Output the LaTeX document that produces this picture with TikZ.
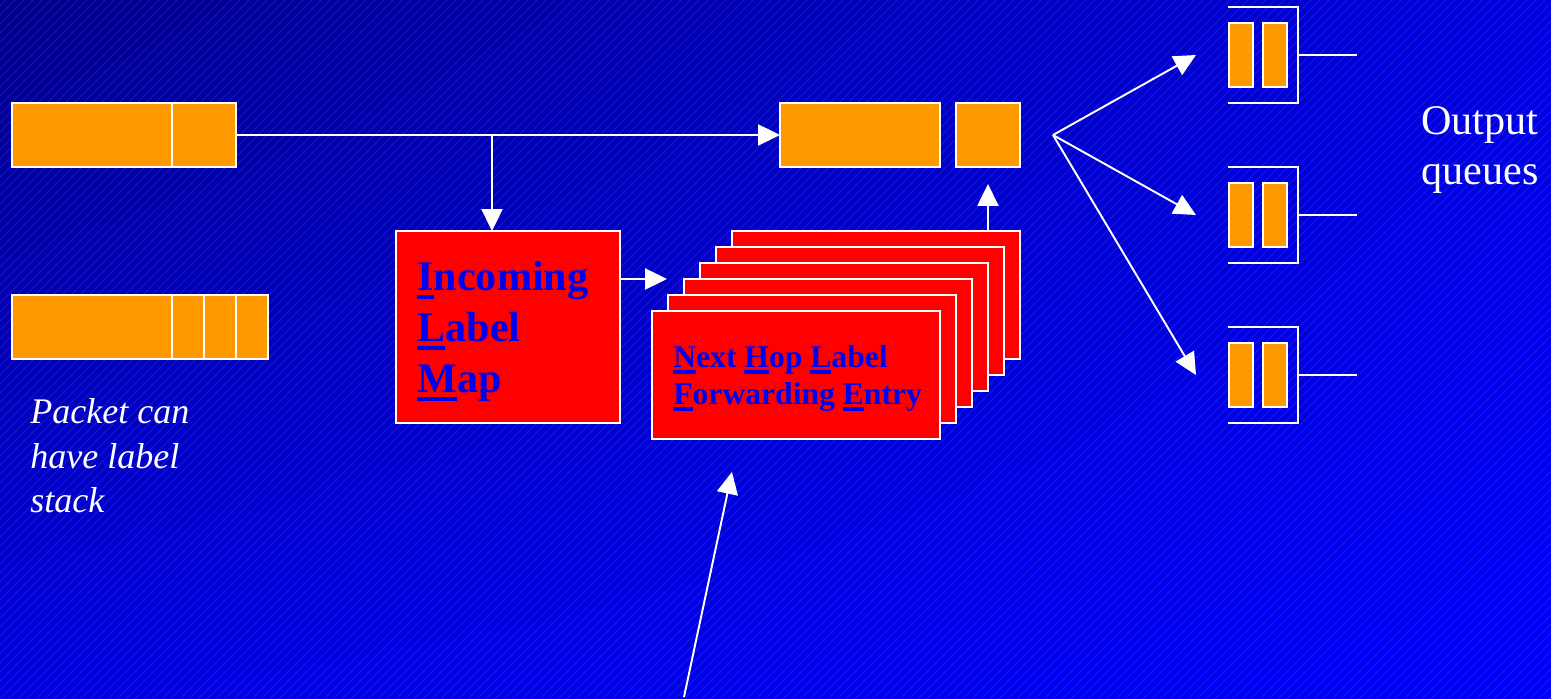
\documentclass[tikz,border=0pt]{standalone}
\usepackage{fontspec}
\setmainfont{Liberation Serif}
\usetikzlibrary{arrows.meta,positioning,shadings}

\definecolor{pktorange}{HTML}{FF9900}
\definecolor{tblred}{HTML}{FF0000}
\definecolor{tblblue}{HTML}{0000F0}
\definecolor{bgdark}{RGB}{0,0,140}
\definecolor{bgmid}{RGB}{0,0,225}
\definecolor{bglight}{RGB}{0,0,250}

% underlined initial letter
\newcommand{\initial}[1]{\setbox0\hbox{#1}\rlap{\rule[-0.2em]{\wd0}{0.1em}}#1}

\begin{document}
\begin{tikzpicture}[
    x=0.02cm, y=-0.02cm,
    pkt/.style={draw=white, line width=0.8pt, fill=pktorange, inner sep=0pt, outer sep=0pt, minimum height=1.28cm},
    hdr/.style={pkt, minimum width=3.2cm},
    lbl/.style={pkt, minimum width=1.28cm},
    lblthin/.style={pkt, minimum width=0.64cm},
    bar/.style={pkt, minimum width=0.48cm},
    table/.style={draw=white, line width=0.8pt, fill=tblred, inner sep=0pt, outer sep=0pt},
    tabletext/.style={text=tblblue, inner sep=0pt, align=left},
    queue/.style={inner sep=0pt, outer sep=0pt, minimum width=1.4cm, minimum height=1.92cm},
    wire/.style={white, line width=0.8pt},
    arrow/.style={-{Triangle[length=12.5pt, width=12pt]}, white, line width=1.1pt},
    note/.style={white, inner sep=0pt, align=left},
    bgline/.style={white, opacity=0.13, line width=0.3pt}
]
\useasboundingbox (0,0) rectangle (1551,699);

% Fondo
\shade[upper left=bgdark, upper right=bgmid, lower left=bgmid, lower right=bglight]
    (0,0) rectangle (1551,699);
\begin{scope}
    \clip (0,0) rectangle (1551,699);
    \foreach \i in {-78,...,173} {
        \draw[bgline] (\i*9,699) -- (\i*9+699,0);
    }
\end{scope}

% Paquete de entrada
\node[hdr, anchor=north west] (inhdr) at (12,103) {};
\node[lbl, right=0pt of inhdr] (inlbl) {};

% Paquete con pila de etiquetas
\node[hdr, anchor=north west] (stkhdr) at (12,295) {};
\node[lblthin, right=0pt of stkhdr] (stka) {};
\node[lblthin, right=0pt of stka] (stkb) {};
\node[lblthin, right=0pt of stkb] (stkc) {};
\node[note, font=\fontsize{20.5}{25.5}\selectfont\itshape, anchor=north west] (stknote)
    at (30,398) {Packet can\\have label\\stack};

% Paquete de salida
\node[hdr, anchor=north west] (outhdr) at (780,103) {};
\node[lbl, right=0.32cm of outhdr] (outlbl) {};

% Incoming Label Map
\node[table, minimum width=4.48cm, minimum height=3.84cm, anchor=north west] (ilm) at (396,231) {};
\node[tabletext, font=\fontsize{24}{29}\selectfont\bfseries, anchor=north west] (ilmtext)
    at (417,261) {\initial{I}ncoming\\\initial{L}abel\\\initial{M}ap};

% Pila NHLFE
\foreach \k in {5,4,...,0} {
    \node[table, minimum width=5.76cm, minimum height=2.56cm, anchor=north west] (nhlfe\k)
        at (652+16*\k,311-16*\k) {};
}
\node[tabletext, font=\fontsize{18}{21}\selectfont\bfseries, anchor=north west] (nhlfetext)
    at (673,345) {\initial{N}ext \initial{H}op \initial{L}abel\\\initial{F}orwarding \initial{E}ntry};

% Colas de salida
\foreach \i in {0,1,2} {
    \node[queue, anchor=north west] (q\i) at (1228,7+160*\i) {};
    \draw[wire] (q\i.north west) -- (q\i.north east) -- (q\i.south east) -- (q\i.south west);
    \draw[wire] (q\i.east) -- ++(59,0);
    \node[bar, anchor=north west] (q\i a) at ([shift={(1,16)}]q\i.north west) {};
    \node[bar, anchor=north west] (q\i b) at ([shift={(35,16)}]q\i.north west) {};
}
\node[note, font=\fontsize{24}{28.4}\selectfont, anchor=north west] (qnote)
    at (1421,106) {Output\\queues};

% Flechas
\coordinate (split) at (inlbl.east -| 492,0);
\draw[arrow] (inlbl.east) -- (outhdr.west);
\draw[arrow] (split) -- (split |- ilm.north);
\draw[arrow] (ilm.east |- nhlfe2.north) -- ([shift={(-17,0)}]nhlfe2.north west);
\draw[arrow] (outlbl.south |- nhlfe5.north) -- ([shift={(0,17)}]outlbl.south);

\coordinate (fan) at (1053,135);
\foreach \i in {0,1,2} {
    \draw[arrow] (fan) -- ([shift={(-32,0)}]q\i.west);
}

\coordinate (ptr) at (684,697);
\draw[arrow] (ptr) -- ([shift={(-64,33)}]nhlfe0.south);

\end{tikzpicture}
\end{document}
